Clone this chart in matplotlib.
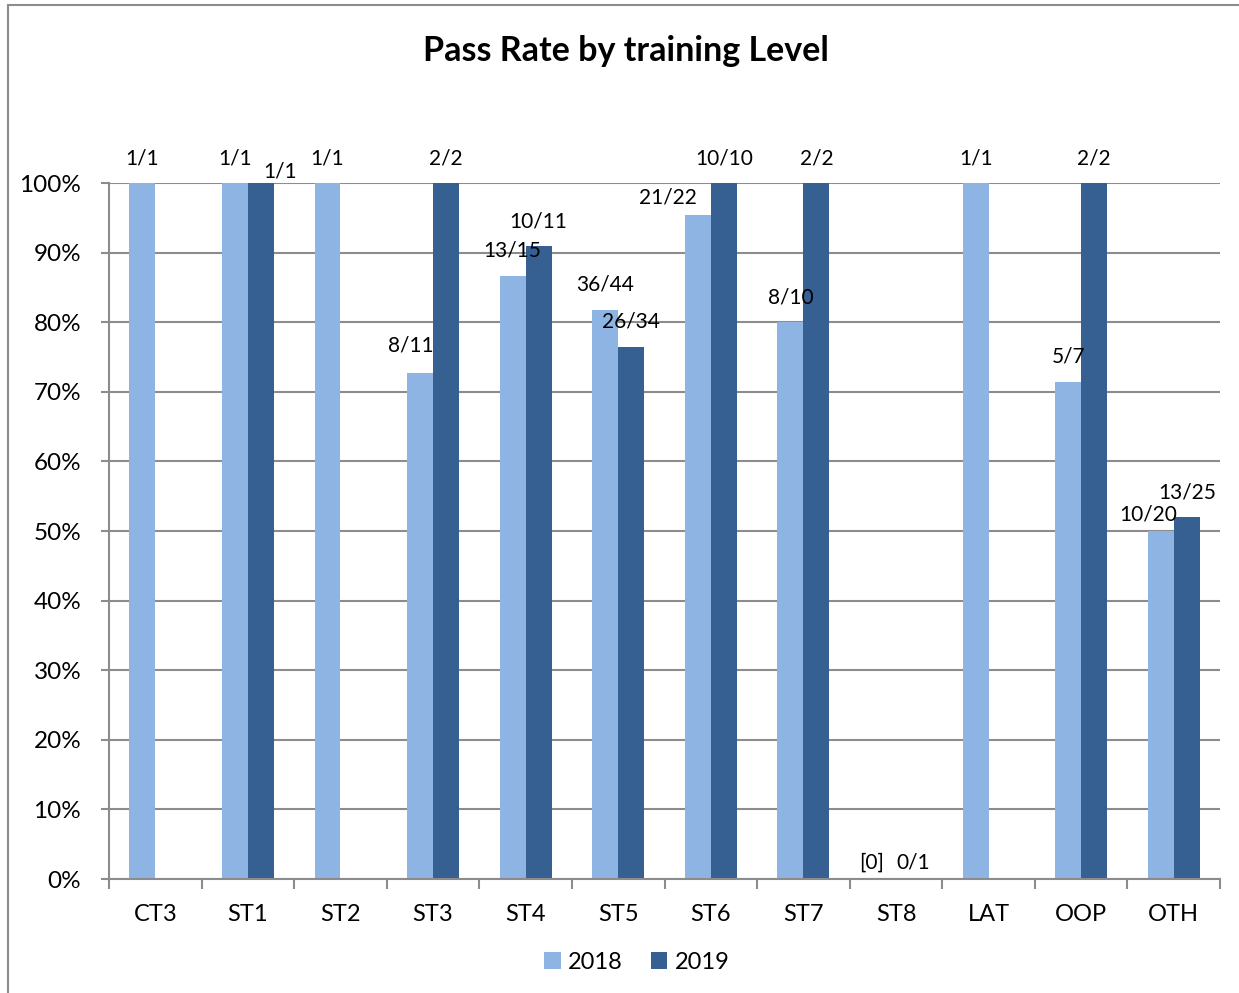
import matplotlib.pyplot as plt
import matplotlib.patches as patches
import numpy as np

plt.rcParams['font.family'] = ['Lato', 'DejaVu Sans']

categories = ['CT3', 'ST1', 'ST2', 'ST3', 'ST4', 'ST5', 'ST6', 'ST7', 'ST8', 'LAT', 'OOP', 'OTH']
series = ['2018', '2019']
# pass rates (None = no bar)
rate_2018 = [1.0, 1.0, 1.0, 8/11, 13/15, 36/44, 21/22, 8/10, None, 1.0, 5/7, 10/20]
rate_2019 = [None, 1.0, None, 1.0, 10/11, 26/34, 1.0, 1.0, 0.0, None, 1.0, 13/25]
labels_2018 = ['1/1', '1/1', '1/1', '8/11', '13/15', '36/44', '21/22', '8/10', '[0]', '1/1', '5/7', '10/20']
labels_2019 = ['', '1/1', '', '2/2', '10/11', '26/34', '10/10', '2/2', '0/1', '', '2/2', '13/25']

colors = ['#8EB4E3', '#366092']
grid_col = '#8C8C8C'

# label nudges (x in category units, y in points) to mimic excel placement
nudge_2018 = [(0, 18), (0, 18), (0, 18), (-0.1, 20), (0, 18), (0, 18), (-0.32, 12),
              (0, 18), (-0.12, 12), (0, 18), (0, 18), (-0.14, 12)]
nudge_2019 = [(0, 18), (0.21, 8), (0, 18), (0, 18), (0, 18), (0, 18), (0, 18),
              (0, 18), (0.05, 12), (0, 18), (0, 18), (0, 18)]

fig = plt.figure(figsize=(12.39, 9.93), dpi=100)
ax = fig.add_axes([0.088, 0.1148, 0.8967, 0.7009])

x = np.arange(len(categories))
w = 0.28
for vals, labs, nud, off, col, name in [(rate_2018, labels_2018, nudge_2018, -w/2, colors[0], series[0]),
                                        (rate_2019, labels_2019, nudge_2019, w/2, colors[1], series[1])]:
    h = [v if v is not None else 0 for v in vals]
    ax.bar(x + off, h, width=w, color=col, edgecolor='none', label=name, zorder=3)
    for i, (v, t) in enumerate(zip(vals, labs)):
        if not t:
            continue
        yv = v if v is not None else 0
        ax.annotate(t, (x[i] + off + nud[i][0], yv),
                    xytext=(0, nud[i][1]), textcoords='offset points',
                    ha='center', va='center', fontsize=15, zorder=4)

ax.set_xlim(-0.5, len(categories) - 0.5)
ax.set_ylim(0, 1.0)
ticks = np.arange(0, 1.01, 0.1)
ax.set_yticks(ticks)
ax.set_yticklabels([f'{int(round(v*100))}%' for v in ticks], fontsize=17.5)
ax.set_xticks(x)
ax.set_xticklabels(categories, fontsize=17)
ax.set_xticks(np.arange(-0.5, len(categories)), minor=True)
ax.tick_params(axis='x', which='major', length=0, pad=18)
ax.tick_params(axis='x', which='minor', length=7, width=1.5, color=grid_col, direction='out')
ax.tick_params(axis='y', length=6, width=1.5, color=grid_col, pad=14)
ax.yaxis.grid(True, color=grid_col, lw=1.5, zorder=0)
for s in ['top', 'right']:
    ax.spines[s].set_visible(False)
for s in ['left', 'bottom']:
    ax.spines[s].set_color(grid_col)
    ax.spines[s].set_linewidth(1.5)
ax.spines['bottom'].set_zorder(5)

fig.text(0.505, 0.949, 'Pass Rate by training Level', ha='center', va='center',
         fontsize=24.5, fontweight='bold')

fig.legend(loc='center', bbox_to_anchor=(0.514, 0.031), ncol=2, frameon=False,
           fontsize=17, handlelength=0.7, handleheight=0.7, handletextpad=0.3,
           columnspacing=1.2)

# outer chart frame (partly cropped in the source)
fig.add_artist(patches.Rectangle((8/1239, -0.01), 1.1, 1 - 5/993 + 0.01, transform=fig.transFigure,
                                 fill=False, edgecolor='#8C8C8C', lw=1.5))

fig.savefig('out.png', dpi=100)
